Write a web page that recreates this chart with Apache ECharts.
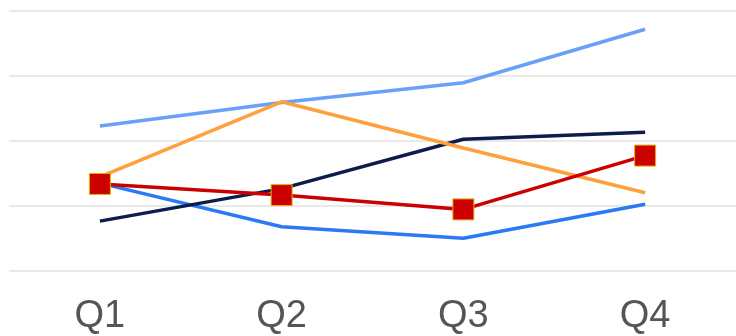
<!DOCTYPE html>
<html>
<head>
<meta charset="utf-8">
<script src="https://cdn.jsdelivr.net/npm/echarts@6/dist/echarts.min.js"></script>
<style>
html,body{margin:0;padding:0;background:#fff;}
#chart{width:736px;height:336px;}
</style>
</head>
<body>
<div id="chart"></div>
<script>
const categories = ['Q1', 'Q2', 'Q3', 'Q4'];
const seriesLightBlue = [55.6, 64.6, 72.2, 92.8];
const seriesOrange = [36.0, 64.9, 47.1, 29.9];
const seriesNavy = [19.0, 31.5, 50.5, 53.2];
const seriesBlue = [33.6, 16.8, 12.4, 25.5];
const seriesRed = [33.3, 29.0, 23.5, 44.2];
const yTicks = [0, 25, 50, 75, 100];

const chart = echarts.init(document.getElementById('chart'), null, {renderer: 'canvas'});

function lineSeries(name, data, color, z) {
  return {
    name: name, type: 'line', data: data, symbol: 'none', z: z,
    lineStyle: {color: color, width: 3.5}, itemStyle: {color: color},
    animation: false
  };
}

chart.setOption({
  animation: false,
  grid: {left: 9, top: 10.5, width: 734, bottom: 65.5, containLabel: false},
  xAxis: {
    type: 'category', data: categories, boundaryGap: true,
    axisLine: {show: false}, axisTick: {show: false},
    axisLabel: {color: '#555555', fontSize: 38, fontFamily: 'Liberation Sans, Arial, sans-serif', margin: 27}
  },
  yAxis: {
    type: 'value', min: yTicks[0], max: yTicks[yTicks.length - 1], interval: 25,
    axisLabel: {show: false}, axisLine: {show: false}, axisTick: {show: false},
    splitLine: {lineStyle: {color: '#e2e2e2', width: 1.5}}
  },
  series: [
    lineSeries('Light Blue', seriesLightBlue, '#6aa0f8', 2),
    lineSeries('Blue', seriesBlue, '#2b79f5', 3),
    lineSeries('Navy', seriesNavy, '#0c1d4d', 4),
    lineSeries('Orange', seriesOrange, '#ffa03f', 5),
    {
      name: 'Red', type: 'line', data: seriesRed, z: 6,
      symbol: 'rect', symbolSize: 21, showAllSymbol: true,
      lineStyle: {color: '#cc0000', width: 3.5},
      itemStyle: {color: '#cc0000', borderColor: '#e0b400', borderWidth: 1},
      animation: false
    }
  ]
});
</script>
</body>
</html>
